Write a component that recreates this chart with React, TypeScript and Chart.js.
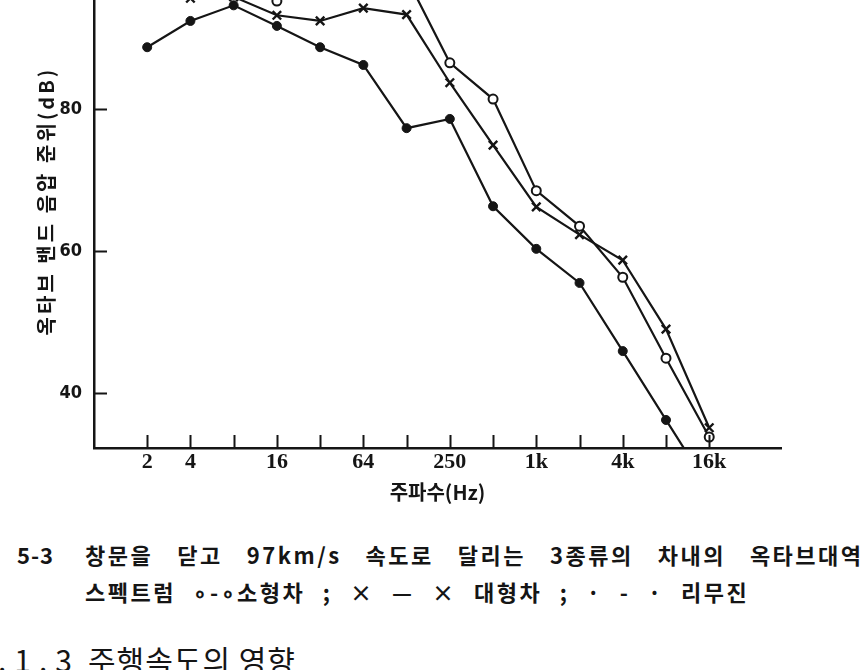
import React, { useEffect, useRef } from 'react';
import { Chart, registerables } from 'chart.js';

Chart.register(...registerables);

// Octave-band centre frequencies (index positions on the x axis)
const freqLabels = ['2', '4', '8', '16', '31.5', '63', '125', '250', '500', '1k', '2k', '4k', '8k', '16k'];
// Tick labels printed under the axis
const tickLabels = ['2', '4', '', '16', '', '64', '', '250', '', '1k', '', '4k', '', '16k'];
// Octave-band sound pressure level (dB)
const smallCar = [99.0, 99.5, 98.5, 95.2, 99.0, 100.5, 98.5, 86.5, 81.4, 68.5, 63.5, 56.3, 44.9, 33.8];
const largeCar = [98.0, 95.6, 95.8, 93.2, 92.4, 94.2, 93.3, 83.7, 74.9, 66.2, 62.3, 58.7, 49.0, 35.1];
const limousine = [88.7, 92.4, 94.6, 91.7, 88.7, 86.2, 77.3, 78.6, 66.3, 60.3, 55.5, 45.9, 36.2, 26.6];
const yTicks = [40, 60, 80];
const yTitle = '옥타브 밴드 음압 준위(dB)';
const xTitle = '주파수(Hz)';

const INK = '#151515';

const axisDecor = {
  id: 'axisDecor',
  afterDraw(chart: any) {
    const { ctx, chartArea, scales } = chart;
    const x = scales.x;
    const y = scales.y;
    ctx.save();
    ctx.strokeStyle = INK;
    ctx.lineWidth = 2;
    ctx.beginPath();
    for (let i = 0; i < freqLabels.length; i++) {
      const px = Math.round(x.getPixelForValue(i)) + 0.5;
      ctx.moveTo(px, chartArea.bottom);
      ctx.lineTo(px, chartArea.bottom - 13);
    }
    for (const v of yTicks) {
      const py = Math.round(y.getPixelForValue(v)) + 0.5;
      ctx.moveTo(chartArea.left, py);
      ctx.lineTo(chartArea.left + 13, py);
    }
    ctx.stroke();
    // rotated y-axis title
    ctx.translate(46, (chartArea.top + chartArea.bottom) / 2);
    ctx.rotate(-Math.PI / 2);
    ctx.fillStyle = INK;
    ctx.font = "bold 20px 'Noto Sans CJK KR', sans-serif";
    (ctx as any).letterSpacing = '3px';
    ctx.textAlign = 'center';
    ctx.textBaseline = 'middle';
    ctx.fillText(yTitle, 0, 0);
    ctx.restore();
  },
};

function toPoints(arr: number[]) {
  return arr.map((v, i) => ({ x: i, y: v }));
}

function OctaveChart() {
  const ref = useRef<HTMLCanvasElement | null>(null);
  useEffect(() => {
    if (!ref.current) return;
    const chart = new Chart(ref.current, {
      type: 'line',
      data: {
        datasets: [
          {
            label: '소형차',
            data: toPoints(smallCar),
            borderColor: INK,
            borderWidth: 2.2,
            pointStyle: 'circle',
            pointRadius: 4.5,
            pointBorderWidth: 2,
            pointBackgroundColor: '#ffffff',
            pointBorderColor: INK,
            tension: 0,
          },
          {
            label: '대형차',
            data: toPoints(largeCar),
            borderColor: INK,
            borderWidth: 2.2,
            pointStyle: 'crossRot',
            pointRadius: 6,
            pointBorderWidth: 2.4,
            pointBorderColor: INK,
            tension: 0,
          },
          {
            label: '리무진',
            data: toPoints(limousine),
            borderColor: INK,
            borderWidth: 2.2,
            pointStyle: 'circle',
            pointRadius: 4.5,
            pointBorderWidth: 1,
            pointBackgroundColor: INK,
            pointBorderColor: INK,
            tension: 0,
          },
        ],
      },
      options: {
        responsive: false,
        animation: false,
        events: [],
        layout: { autoPadding: false, padding: { left: 0, right: 81, top: 0, bottom: 0 } },
        plugins: { legend: { display: false }, tooltip: { enabled: false } },
        scales: {
          x: {
            type: 'linear',
            min: -1.23,
            max: 14.66,
            grid: { display: false, drawTicks: false },
            border: { display: true, color: INK, width: 2.5 },
            afterBuildTicks: (s: any) => {
              s.ticks = freqLabels.map((_, i) => ({ value: i }));
            },
            afterFit: (s: any) => {
              s.height = 72;
              s.paddingLeft = 0;
              s.paddingRight = 0;
            },
            ticks: {
              autoSkip: false,
              maxRotation: 0,
              minRotation: 0,
              padding: 1,
              color: INK,
              font: { family: "'Liberation Serif', 'DejaVu Serif', serif", size: 22, weight: 'bold' },
              callback: (_v: any, i: number) => tickLabels[i] ?? '',
            },
            title: {
              display: true,
              text: xTitle,
              color: INK,
              padding: { top: 0, bottom: 16 },
              font: { family: "'Noto Sans CJK KR', sans-serif", size: 20, weight: 'bold' },
            },
          },
          y: {
            type: 'linear',
            min: 32.25,
            max: 101.83,
            grid: { display: false, drawTicks: false },
            border: { display: true, color: INK, width: 2.5 },
            afterBuildTicks: (s: any) => {
              s.ticks = yTicks.map((v) => ({ value: v }));
            },
            afterFit: (s: any) => {
              s.width = 94;
              s.paddingTop = 0;
              s.paddingBottom = 0;
            },
            ticks: {
              padding: 12,
              color: INK,
              font: {
                family: "'Liberation Sans Narrow', 'DejaVu Sans Condensed', 'Liberation Sans', sans-serif",
                size: 18,
                weight: 'bold',
              },
            },
          },
        },
      },
      plugins: [axisDecor],
    } as any);
    return () => chart.destroy();
  }, []);
  return <canvas ref={ref} width={862} height={566} style={{ display: 'block' }} />;
}

export default function App() {
  const hangul = "'Noto Sans CJK KR', sans-serif";
  return (
    <div
      style={{
        position: 'absolute',
        left: 0,
        top: 0,
        width: 862,
        height: 670,
        overflow: 'hidden',
        background: '#ffffff',
        color: INK,
      }}
    >
      <div style={{ position: 'absolute', left: 0, top: -46, width: 862, height: 566 }}>
        <OctaveChart />
      </div>
      <div
        style={{
          position: 'absolute', left: 17, top: 543, whiteSpace: 'nowrap',
          fontFamily: hangul, fontWeight: 700, fontSize: 22, lineHeight: '22px', letterSpacing: 1,
        }}
      >
        5-3
      </div>
      <div
        style={{
          position: 'absolute', left: 85, top: 543, whiteSpace: 'nowrap',
          fontFamily: hangul, fontWeight: 700, fontSize: 22, lineHeight: '22px',
          letterSpacing: 2.5, wordSpacing: 16.5,
        }}
      >
        창문을 닫고 97km/s 속도로 달리는 3종류의 차내의 옥타브대역
      </div>
      <div
        style={{
          position: 'absolute', left: 85, top: 580, whiteSpace: 'nowrap',
          fontFamily: hangul, fontWeight: 700, fontSize: 22, lineHeight: '22px',
          letterSpacing: 2.5, wordSpacing: 10,
        }}
      >
        스펙트럼 ∘-∘소형차 ; × — × 대형차 ; · - · 리무진
      </div>
      <div
        style={{
          position: 'absolute', left: -2, top: 644, whiteSpace: 'nowrap',
          fontFamily: hangul, fontWeight: 400, fontSize: 30, lineHeight: '30px', letterSpacing: 8,
        }}
      >
        .1.3
      </div>
      <div
        style={{
          position: 'absolute', left: 88, top: 644, whiteSpace: 'nowrap',
          fontFamily: hangul, fontWeight: 400, fontSize: 30, lineHeight: '30px', letterSpacing: 1,
        }}
      >
        주행속도의 영향
      </div>
    </div>
  );
}
